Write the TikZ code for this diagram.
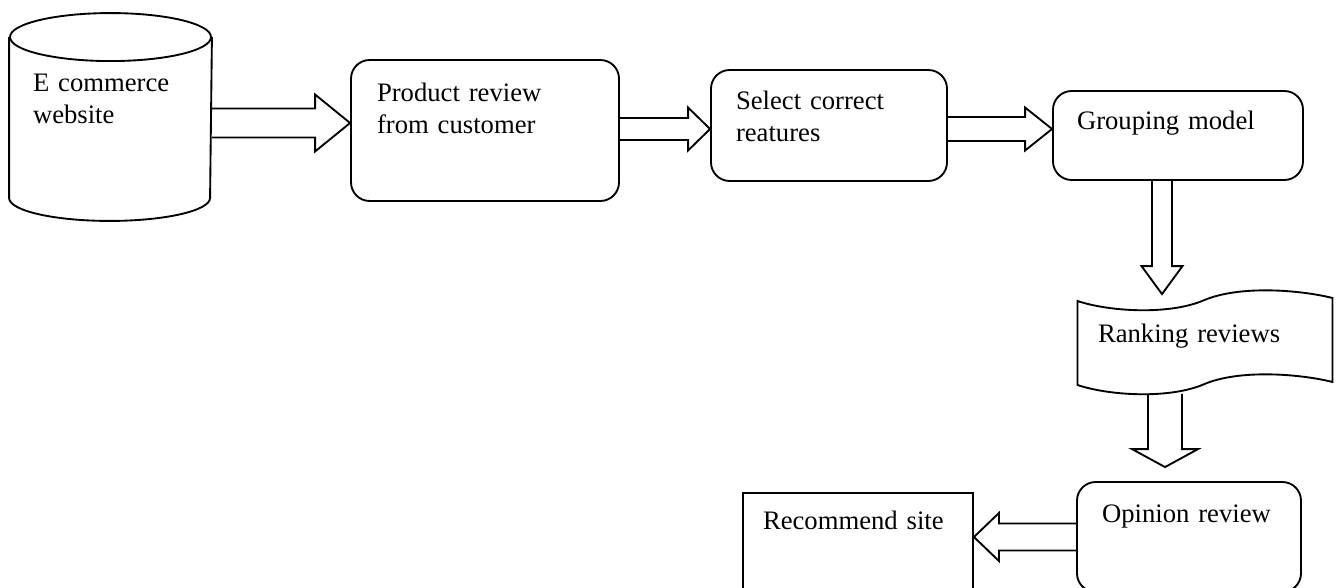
\documentclass[tikz,border=0pt]{standalone}
\usepackage{fontspec}
\setmainfont{Liberation Serif}
\usetikzlibrary{calc}
\tikzset{
  base/.style={font=\fontsize{20pt}{23.5pt}\selectfont, align=left, text height=13.5pt, line width=1.4pt},
  process/.style={base, rectangle, rounded corners=14pt, draw=black},
  output/.style={base, rectangle, draw=black},
  store/.style={base, rectangle},
  tapebox/.style={base, rectangle},
  fatline/.style={line width=1.4pt, draw=black, line join=miter},
}
% block arrow: from, to, shaft half width, head half width, head length
\newcommand{\fatarrow}[5]{%
  \path (#1) coordinate (fa-s) (#2) coordinate (fa-e);
  \path ($(fa-e)!#5!(fa-s)$) coordinate (fa-h);
  \draw[fatline] ($(fa-s)!#3!90:(fa-e)$) -- ($(fa-h)!#3!90:(fa-e)$) -- ($(fa-h)!#4!90:(fa-e)$)
    -- (fa-e) -- ($(fa-h)!#4!-90:(fa-e)$) -- ($(fa-h)!#3!-90:(fa-e)$) -- ($(fa-s)!#3!-90:(fa-e)$);
}

\begin{document}
\begin{tikzpicture}[x=0.75pt, y=-0.75pt]
  \useasboundingbox (0,0) rectangle (1339,588);
  \clip (0,0) rectangle (1339,588);

  \node[store, text width=116.25pt, inner xsep=17.25pt, inner ysep=27pt, text depth=51.75pt]
    (db) at (110.5,117.5) {E commerce\\website};
  \node[process, text width=162pt, inner xsep=19.5pt, inner ysep=18pt, text depth=56.25pt]
    (prod) at (485,130.5) {Product review\\from customer};
  \node[process, text width=139.5pt, inner xsep=18.75pt, inner ysep=16.5pt, text depth=36.75pt]
    (sel) at (829,125.5) {Select correct\\reatures};
  \node[process, text width=151.5pt, inner xsep=18pt, inner ysep=15.75pt, text depth=21.75pt]
    (grp) at (1178,135.5) {Grouping model};
  \node[tapebox, text width=159.75pt, inner xsep=15.75pt, inner ysep=18pt, text depth=13.5pt]
    (rank) at (1204.5,342) {Ranking reviews};
  \node[process, text width=130.5pt, inner xsep=18.75pt, inner ysep=16.5pt, text depth=36pt]
    (op) at (1189,537) {Opinion review};
  \node[output, text width=142.5pt, inner xsep=15pt, inner ysep=13.5pt, text depth=42pt]
    (rec) at (858,548) {Recommend site};

  % database drum
  \draw[fatline] (db.north west) -- (db.south west)
    arc[start angle=180, end angle=360, x radius=75.375pt, y radius=17.25pt] -- (db.north east);
  \draw[fatline] (db.north) ellipse[x radius=75.375pt, y radius=18pt];

  % wavy tape outline
  \draw[fatline, shift={(rank.center)}] (-127,-41) .. controls (-94,-30) and (-34,-27) .. (0,-42)
    .. controls (36,-57) and (96,-52) .. (128,-44) -- (128,40)
    .. controls (96,32) and (36,27) .. (0,42)
    .. controls (-34,57) and (-94,54) .. (-127,43) -- cycle;

  \fatarrow{$(db.east)+(0,5.5)$}{$(prod.west)+(0,-7.5)$}{10.875pt}{21.375pt}{26.25pt}
  \fatarrow{$(prod.east)+(0,-1.5)$}{$(sel.west)+(0,3.5)$}{8.25pt}{16.125pt}{16.5pt}
  \fatarrow{$(sel.east)+(0,3.5)$}{$(grp.west)+(0,-6.5)$}{9pt}{16.125pt}{20.25pt}
  \fatarrow{$(grp.south)+(-16,0)$}{$(rank.north)+(-42.5,-5)$}{7.5pt}{15.375pt}{21pt}
  \fatarrow{$(rank.south)+(-39.5,9)$}{$(op.north)+(-24,-14)$}{12.75pt}{24.75pt}{13.5pt}
  \fatarrow{op.west}{$(rec.east)+(0,-11)$}{10.125pt}{18pt}{18.75pt}
\end{tikzpicture}
\end{document}
